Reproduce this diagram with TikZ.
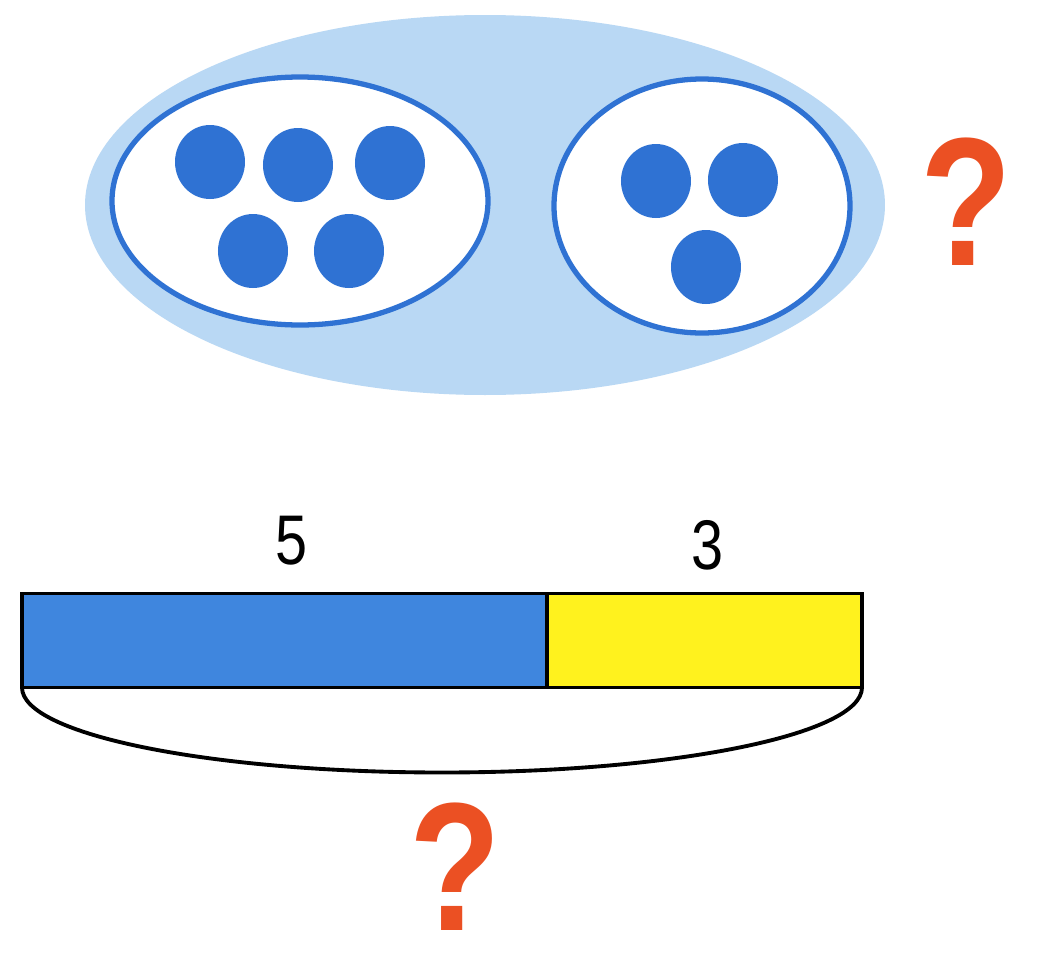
\documentclass[tikz,border=0pt]{standalone}
\usepackage{fontspec}
\setmainfont{Liberation Sans}
\usepackage{xcolor}
\usetikzlibrary{shapes.geometric, positioning}
\definecolor{fondbleu}{HTML}{B9D8F4}
\definecolor{bleu}{HTML}{2F72D3}
\definecolor{barrebleue}{HTML}{3F86DE}
\definecolor{jaune}{HTML}{FFF21E}
\definecolor{rouge}{HTML}{EB5023}

\newcommand{\etroit}[1]{\scalebox{0.82}[1]{#1}}

\tikzset{
  ensemble/.style={ellipse, draw=bleu, line width=1.5pt, fill=white, inner sep=0pt},
  jeton/.style={ellipse, fill=bleu, inner sep=0pt, minimum width=0.70cm, minimum height=0.74cm},
  question/.style={font=\fontsize{52}{52}\selectfont\bfseries, text=rouge, inner sep=0pt},
  nombre/.style={font=\fontsize{20}{20}\selectfont, inner sep=0pt},
  segment/.style={draw=black, line width=1.1pt, inner sep=0pt, outer sep=0pt, minimum height=0.94cm}
}

\begin{document}
\begin{tikzpicture}
    \useasboundingbox[fill=white] (0,0) rectangle (10.58,9.57);
    % Ensembles
    \node[ellipse, fill=fondbleu, minimum width=8.0cm, minimum height=3.8cm] (tout) at (4.85,7.52) {};
    \node[ensemble, minimum width=3.76cm, minimum height=2.48cm] (gauche) at (3.00,7.56) {};
    \node[ensemble, minimum width=2.96cm, minimum height=2.54cm] (droite) at (7.02,7.51) {};
    % Jetons : nom, x, y
    \foreach \n/\x/\y in {g1/2.10/7.95, g2/2.98/7.92, g3/3.90/7.94, g4/2.53/7.06, g5/3.49/7.06,
                          d1/6.56/7.76, d2/7.43/7.77, d3/7.06/6.90} {
      \node[jeton] (\n) at (\x,\y) {};
    }
    \node[question] (q1) at (9.66,7.55) {\etroit{?}};
    % Barre
    \node[segment, fill=barrebleue, minimum width=5.25cm] (cinq) at (2.845,3.165) {};
    \node[segment, fill=jaune, minimum width=3.15cm, anchor=south west] (trois) at (cinq.south east) {};
    \node[nombre] (l5) at (2.92,4.16) {\etroit{5}};
    \node[nombre] (l3) at (7.08,4.12) {\etroit{3}};
    \draw[line width=1.1pt] (cinq.south west) arc[start angle=180, end angle=360, x radius=4.2, y radius=0.85];
    \node[question] (q2) at (4.55,0.90) {\etroit{?}};
\end{tikzpicture}
\end{document}
